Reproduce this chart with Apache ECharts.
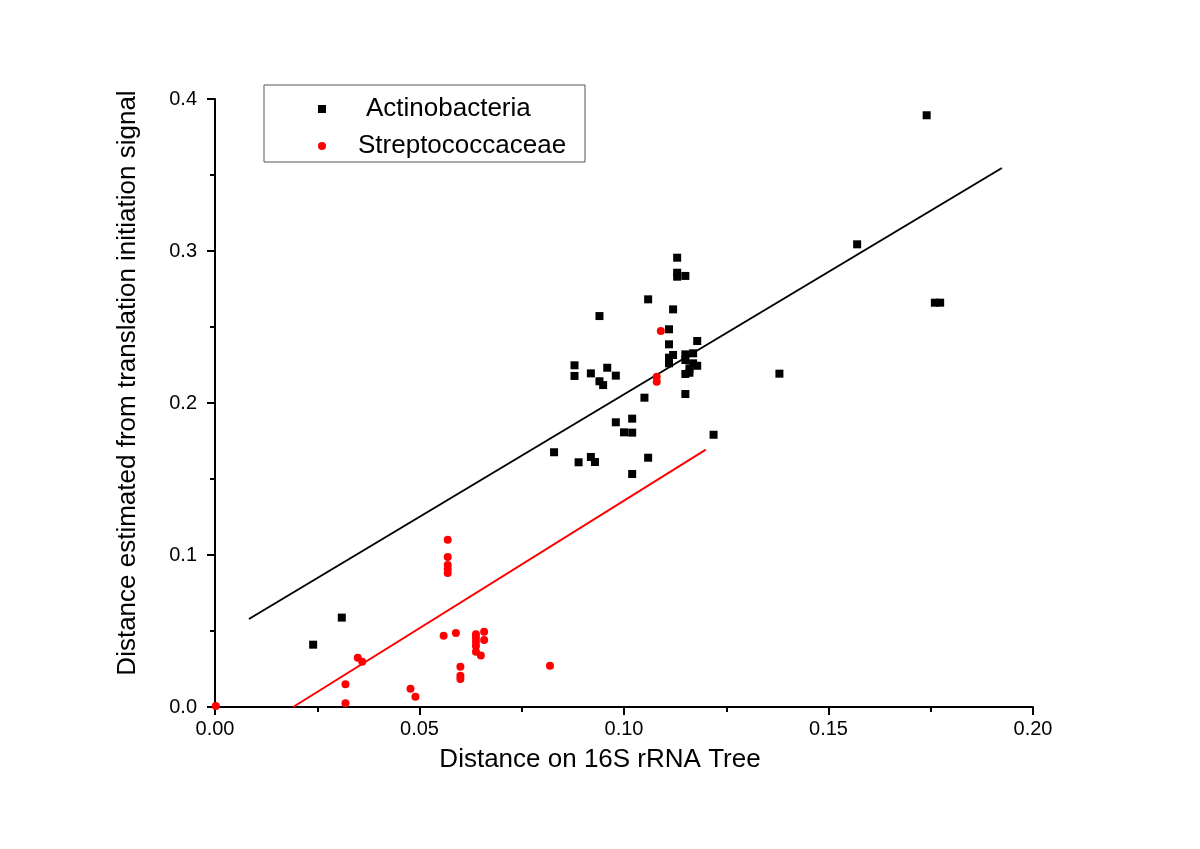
<!DOCTYPE html>
<html>
<head>
<meta charset="utf-8">
<script src="https://cdn.jsdelivr.net/npm/echarts@6/dist/echarts.min.js"></script>
<style>
html,body{margin:0;padding:0;background:#fff;}
#chart{width:1200px;height:849px;}
</style>
</head>
<body>
<div id="chart"></div>
<script>
// ---- data ----
var seriesNames = ['Actinobacteria', 'Streptococcaceae'];
var xTicks = [0, 0.05, 0.1, 0.15, 0.2];
var yTicks = [0, 0.1, 0.2, 0.3, 0.4];

var actinobacteria = [
  [0.0240, 0.0410], [0.0310, 0.0588], [0.1130, 0.2956], [0.1130, 0.2857],
  [0.1130, 0.2831], [0.1150, 0.2836], [0.1059, 0.2682], [0.0940, 0.2572],
  [0.1120, 0.2616], [0.1110, 0.2485], [0.1179, 0.2408], [0.1110, 0.2386],
  [0.1120, 0.2316], [0.1110, 0.2298], [0.1110, 0.2261], [0.1150, 0.2320],
  [0.1169, 0.2327], [0.1150, 0.2283], [0.1169, 0.2261], [0.1179, 0.2245],
  [0.1160, 0.2228], [0.1150, 0.2191], [0.1160, 0.2199], [0.0879, 0.2248],
  [0.0879, 0.2178], [0.0919, 0.2195], [0.0959, 0.2232], [0.0980, 0.2180],
  [0.0940, 0.2143], [0.0949, 0.2118], [0.1150, 0.2059], [0.1050, 0.2035],
  [0.0980, 0.1873], [0.1020, 0.1897], [0.1000, 0.1807], [0.1020, 0.1805],
  [0.1219, 0.1791], [0.0829, 0.1676], [0.0889, 0.1610], [0.0919, 0.1645],
  [0.0929, 0.1612], [0.1059, 0.1640], [0.1020, 0.1533], [0.1740, 0.3893],
  [0.1570, 0.3044], [0.1760, 0.2660], [0.1773, 0.2660], [0.1380, 0.2193]
];

var streptococcaceae = [
  [0.1090, 0.2474], [0.1080, 0.2173], [0.1080, 0.2140], [0.0569, 0.1101],
  [0.0569, 0.0987], [0.0569, 0.0934], [0.0569, 0.0908], [0.0569, 0.0882],
  [0.0559, 0.0469], [0.0589, 0.0487], [0.0638, 0.0478], [0.0638, 0.0456],
  [0.0638, 0.0430], [0.0638, 0.0401], [0.0638, 0.0364], [0.0658, 0.0495],
  [0.0658, 0.0441], [0.0650, 0.0338], [0.0600, 0.0265], [0.0600, 0.0206],
  [0.0600, 0.0184], [0.0819, 0.0272], [0.0349, 0.0324], [0.0360, 0.0298],
  [0.0319, 0.0149], [0.0319, 0.0024], [0.0478, 0.0120], [0.0490, 0.0068],
  [0.0002, 0.0007]
];

var actinoFit = [[0.0083, 0.0579], [0.1924, 0.3546]];
var streptoFit = [[0.0191, 0.0000], [0.1200, 0.1693]];

// ---- chart ----
var chart = echarts.init(document.getElementById('chart'), null, {renderer: 'canvas'});
var font = 'Arial, "Liberation Sans", sans-serif';
var option = {
  backgroundColor: '#ffffff',
  animation: false,
  textStyle: {fontFamily: font, color: '#000'},
  grid: {left: 215, right: 167, top: 99, bottom: 142, containLabel: false},
  graphic: [{
    type: 'rect',
    left: 261.5, top: 82.5,
    shape: {x: 0, y: 0, width: 321, height: 77},
    style: {fill: 'none', stroke: '#555', lineWidth: 1},
    z: 10
  }],
  legend: {
    orient: 'vertical',
    left: 313, top: 89,
    itemWidth: 8, itemHeight: 8,
    itemGap: 7,
    textStyle: {fontFamily: font, fontSize: 26, color: '#000', lineHeight: 30},
    data: [
      {name: seriesNames[0], textStyle: {padding: [0, 0, 0, 35]}},
      {name: seriesNames[1], textStyle: {padding: [0, 0, 0, 27]}}
    ]
  },
  xAxis: {
    type: 'value',
    min: xTicks[0], max: xTicks[xTicks.length - 1], interval: xTicks[1] - xTicks[0],
    name: 'Distance on 16S rRNA Tree',
    nameLocation: 'middle',
    nameGap: 40,
    nameTextStyle: {fontFamily: font, fontSize: 26, color: '#000', padding: [0, 48, 0, 0]},
    axisLine: {show: true, onZero: false, lineStyle: {color: '#000', width: 2}},
    axisTick: {show: true, inside: false, length: 8, lineStyle: {color: '#000', width: 2}},
    minorTick: {show: true, splitNumber: 2, length: 5, lineStyle: {color: '#000', width: 2}},
    splitLine: {show: false},
    axisLabel: {fontFamily: font, fontSize: 20, color: '#000', margin: 12,
      formatter: function (v) { return v.toFixed(2); }}
  },
  yAxis: {
    type: 'value',
    min: yTicks[0], max: yTicks[yTicks.length - 1], interval: yTicks[1] - yTicks[0],
    name: 'Distance estimated from translation initiation signal',
    nameLocation: 'middle',
    nameGap: 74,
    nameTextStyle: {fontFamily: font, fontSize: 26, color: '#000', padding: [0, 0, 0, 40]},
    axisLine: {show: true, onZero: false, lineStyle: {color: '#000', width: 2}},
    axisTick: {show: true, inside: false, length: 8, lineStyle: {color: '#000', width: 2}},
    minorTick: {show: true, splitNumber: 2, length: 5, lineStyle: {color: '#000', width: 2}},
    splitLine: {show: false},
    axisLabel: {fontFamily: font, fontSize: 20, color: '#000', margin: 18,
      formatter: function (v) { return v.toFixed(1); }}
  },
  series: [
    {
      name: seriesNames[0], type: 'scatter', symbol: 'rect', symbolSize: 8,
      itemStyle: {color: '#000000', opacity: 1}, data: actinobacteria, z: 3
    },
    {
      name: seriesNames[1], type: 'scatter', symbol: 'circle', symbolSize: 8,
      itemStyle: {color: '#ff0000', opacity: 1}, data: streptococcaceae, z: 3
    },
    {
      name: 'fit1', type: 'line', data: actinoFit, symbol: 'none',
      lineStyle: {color: '#000000', width: 2}, z: 2, silent: true
    },
    {
      name: 'fit2', type: 'line', data: streptoFit, symbol: 'none',
      lineStyle: {color: '#ff0000', width: 2}, z: 2, silent: true
    }
  ]
};
chart.setOption(option);
</script>
</body>
</html>
